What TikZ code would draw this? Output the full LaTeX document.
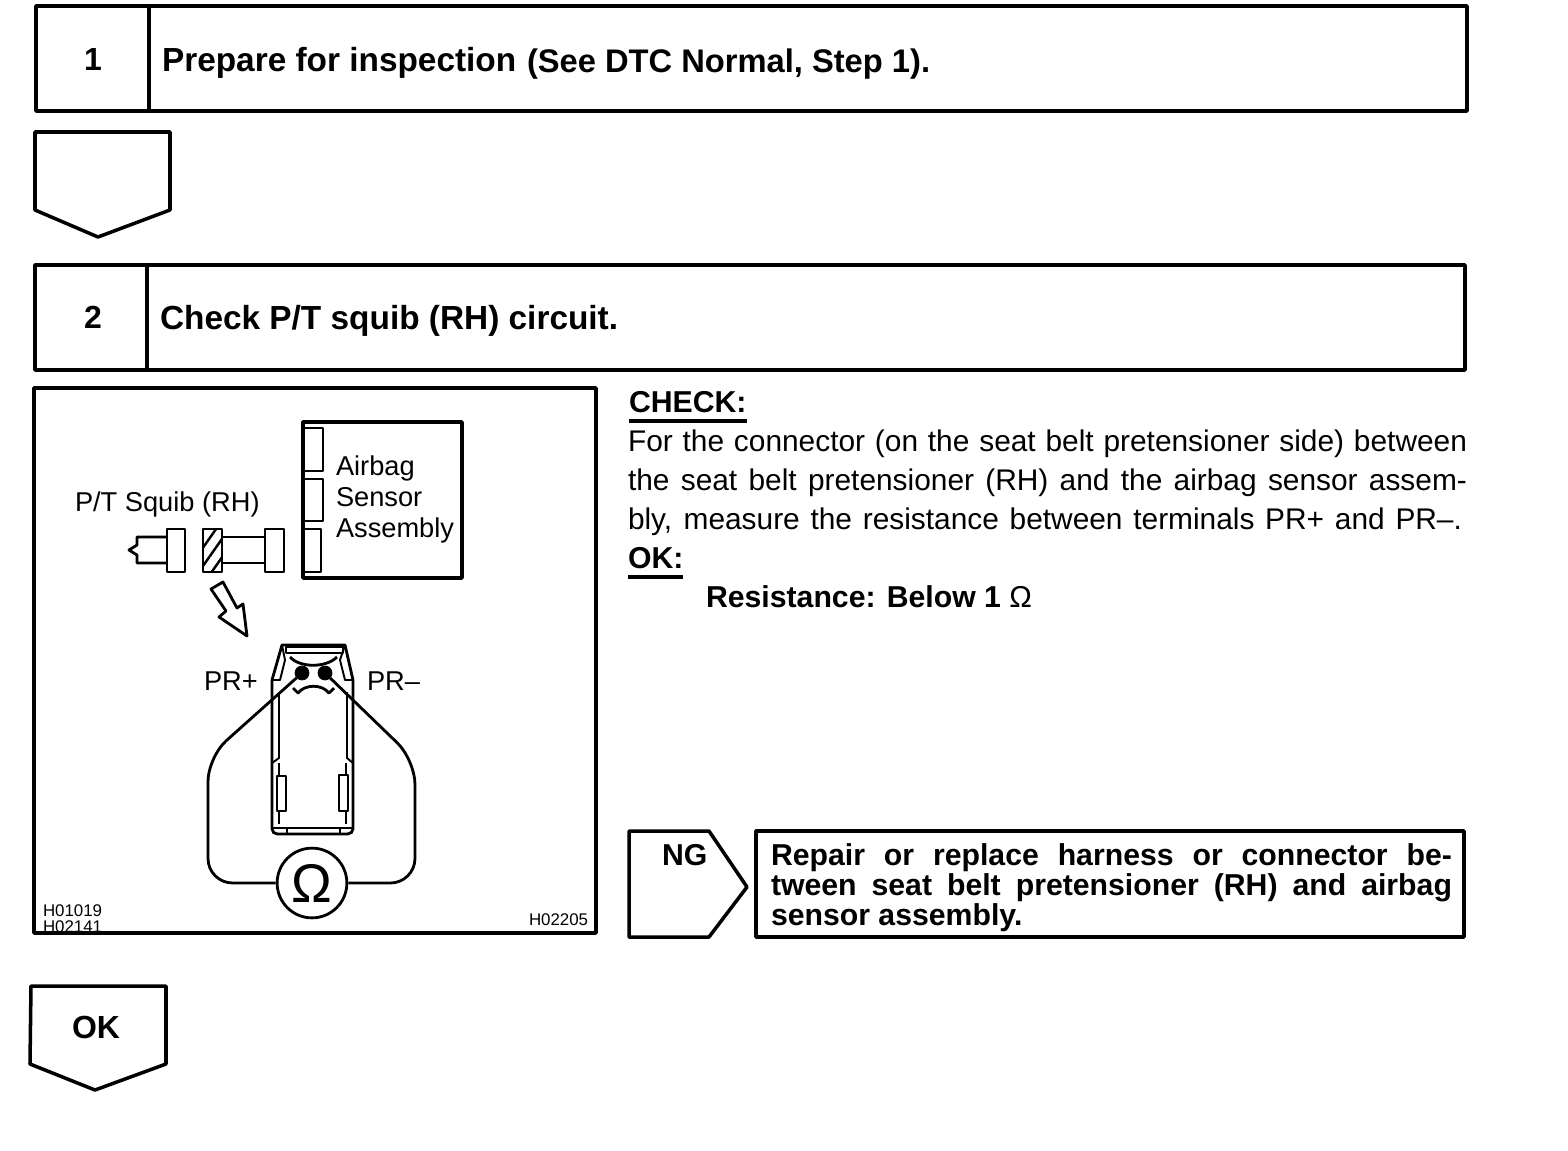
\documentclass[tikz,border=0pt]{standalone}
\usepackage{fontspec}
\setmainfont{Liberation Sans}
\usetikzlibrary{patterns.meta}
\newlength{\pxu}
\setlength{\pxu}{0.02cm}
\newcommand{\fitline}[2]{\makebox[#1\pxu][s]{#2}}
\tikzset{
    line_box/.style={draw=black, line width=2pt, line join=round, fill=white},
    line_part/.style={draw=black, line width=1.6pt, line join=round},
    line_thin/.style={draw=black, line width=1.1pt, line join=round},
    txt_head/.style={
        anchor=base west, inner sep=0pt, outer sep=0pt,
        font=\fontsize{19pt}{21pt}\selectfont\bfseries
    },
    txt_num/.style={
        anchor=center, inner sep=0pt, outer sep=0pt,
        font=\fontsize{18.2pt}{20pt}\selectfont\bfseries
    },
    txt_body/.style={
        anchor=base west, inner sep=0pt, outer sep=0pt,
        font=\fontsize{17pt}{19pt}\selectfont
    },
    txt_bold/.style={
        anchor=base west, inner sep=0pt, outer sep=0pt,
        font=\fontsize{17.2pt}{19pt}\selectfont\bfseries
    },
    txt_part/.style={
        anchor=base west, inner sep=0pt, outer sep=0pt,
        font=\fontsize{15.5pt}{17pt}\selectfont
    },
    txt_code/.style={
        anchor=base west, inner sep=0pt, outer sep=0pt,
        font=\fontsize{9.6pt}{10pt}\selectfont
    },
    pin_dot/.style={circle, fill=black, draw=black, minimum size=8pt, inner sep=0pt},
    meter_ring/.style={circle, draw=black, line width=1.6pt, fill=white,
        minimum size=39.7pt, inner sep=0pt, font=\fontsize{31pt}{32pt}\selectfont}
}
\begin{document}
\begin{tikzpicture}[x=0.02cm, y=-0.02cm]
    \useasboundingbox (0,0) rectangle (1568,1150);

    % --- Step 1 ---
    \draw[line_box] (36,6) rectangle (1467,111);
    \draw[line_box] (149,6) -- (149,111);
    \node[txt_num] (num_one) at (93,59) {1};
    \node[txt_head] (prepare) at (162,71) {Prepare for inspection};
    \node[txt_head, font=\fontsize{18.6pt}{21pt}\selectfont\bfseries] (see_dtc) at (527,72) {(See DTC Normal, Step 1).};
    \draw[line_box] (35,132) -- (170,132) -- (170,210) -- (98,237) -- (35,210) -- cycle;

    % --- Step 2 ---
    \draw[line_box] (35,265) rectangle (1465,370);
    \draw[line_box] (147,265) -- (147,370);
    \node[txt_num] (num_two) at (93,317) {2};
    \node[txt_head] (check_squib) at (160,329) {Check P/T squib (RH) circuit.};

    % --- Illustration frame ---
    \draw[line_box] (34,388) rectangle (596,933);
    \node[txt_part] (squib_lbl) at (75,511) {P/T Squib (RH)};

    % Airbag sensor
    \draw[line_box] (303,422) rectangle (462,578);
    \draw[line_part] (303,428) rectangle (323,471);
    \draw[line_part] (303,479) rectangle (323,521);
    \draw[line_part] (303,529) rectangle (321,572);
    \node[txt_part] (airbag_a) at (336,475) {Airbag};
    \node[txt_part] (airbag_b) at (336,506) {Sensor};
    \node[txt_part] (airbag_c) at (336,537) {Assembly};

    % Connector pair
    \draw[line_part] (167,537) -- (137,537) -- (137,545) -- (129,550) -- (137,555) -- (137,563) -- (167,563);
    \draw[line_part] (167,529) rectangle (185,572);
    \draw[line_part, pattern={Lines[angle=55, distance=6pt, line width=1.4pt]}] (203,529) rectangle (222,572);
    \draw[line_part] (222,537) -- (266,537);
    \draw[line_part] (222,563) -- (266,563);
    \draw[line_part] (265,529) rectangle (284,572);

    % Hollow view arrow
    \draw[line_part] (211,589) -- (223,582) -- (237,608) -- (243,604) -- (247,636) -- (219,617) -- (226,611) -- cycle;

    % Connector face
    \draw[line_part, rounded corners=3pt] (272,680) -- (272,834) -- (353,834) -- (353,680);
    \draw[line_part] (272,680) -- (282,645) -- (345,645) -- (353,680);
    \draw[line_thin] (286,647) rectangle (343,653);
    \draw[line_thin] (272,680) -- (280,680) -- (285,660) -- (282,645);
    \draw[line_thin] (353,680) -- (345,680) -- (340,660) -- (345,645);
    \draw[line_thin] (279,692) -- (279,758) -- (272,763);
    \draw[line_thin] (347,692) -- (347,758) -- (353,763);
    \draw[line_thin] (272,828) -- (353,828);
    \draw[line_thin] (287,828) -- (287,834);
    \draw[line_thin] (340,828) -- (340,834);
    \draw[line_part] (277,776) rectangle (286,811);
    \draw[line_part] (339,775) rectangle (348,811);
    \draw[line_thin] (279,763) -- (279,776);
    \draw[line_thin] (279,811) -- (279,824);
    \draw[line_thin] (346,763) -- (346,775);
    \draw[line_thin] (346,811) -- (346,824);
    \draw[line_part] (290,657) .. controls (300,668) and (326,668) .. (337,657);
    \draw[line_part] (293,688) -- (298,693) .. controls (305,684) and (322,684) .. (329,693) -- (334,688);

    \node[txt_part] (plus_lbl) at (204,690) {PR+};
    \node[txt_part] (minus_lbl) at (367,690) {PR–};
    \node[pin_dot] (pin_plus) at (302,673) {};
    \node[pin_dot] (pin_minus) at (325,673) {};
    \node[meter_ring] (meter) at (312,883) {Ω};

    % Wires from the pins to the meter
    \draw[line_part, rounded corners=14pt] (pin_plus) -- (208,757) -- (208,883) -- (meter.west);
    \draw[line_part, rounded corners=14pt] (pin_minus) -- (415,760) -- (415,883) -- (meter.east);

    % Drawing codes
    \node[txt_code] (code_a) at (43,916) {H01019};
    \node[txt_code] (code_b) at (43,932) {H02141};
    \node[txt_code] (code_c) at (529,925) {H02205};

    % --- Right column text ---
    \node[txt_bold] (check_lbl) at (629,412) {CHECK:};
    \draw[line_box] (629,421) -- (747,421);
    \node[txt_body] (body_a) at (628,451) {\fitline{839}{For the connector (on the seat belt pretensioner side) between}};
    \node[txt_body] (body_b) at (628,490) {\fitline{839}{the seat belt pretensioner (RH) and the airbag sensor assem-}};
    \node[txt_body] (body_c) at (628,529) {\fitline{834}{bly, measure the resistance between terminals PR+ and PR–.}};
    \node[txt_bold] (ok_lbl) at (628,568) {OK:};
    \draw[line_box] (628,577) -- (683,577);
    \node[txt_bold] (resist) at (706,607) {Resistance: Below 1 {\mdseries Ω}};

    % --- NG branch ---
    \draw[line_box] (629,831) -- (709,831) -- (747,887) -- (709,937) -- (629,937) -- cycle;
    \node[txt_bold] (ng_lbl) at (662,865) {NG};
    \draw[line_box] (756,831) rectangle (1464,937);
    \node[txt_bold] (repair_a) at (771,865) {\fitline{681}{Repair or replace harness or connector be-}};
    \node[txt_bold] (repair_b) at (771,895) {\fitline{681}{tween seat belt pretensioner (RH) and airbag}};
    \node[txt_bold] (repair_c) at (771,925) {sensor assembly.};

    % --- OK tab ---
    \draw[line_box] (31,986) -- (166,986) -- (166,1064) -- (95,1090) -- (30,1064) -- cycle;
    \node[txt_num] (ok_tab) at (96,1027) {OK};

\end{tikzpicture}
\end{document}
